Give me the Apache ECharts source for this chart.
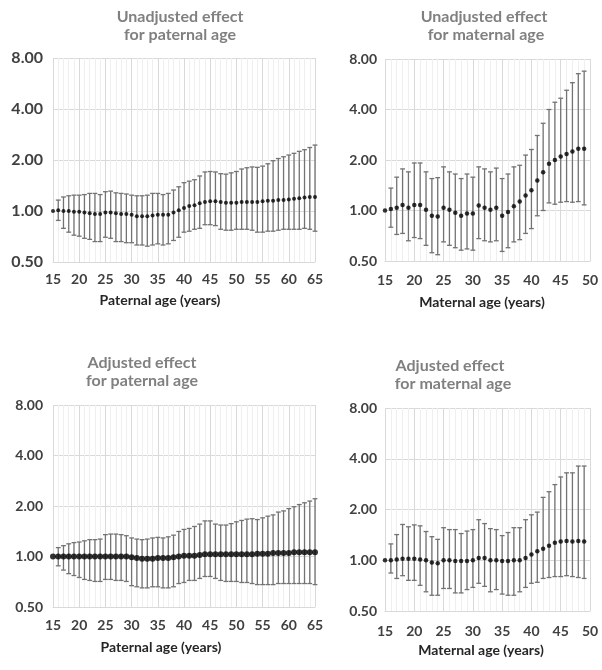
<!DOCTYPE html>
<html>
<head>
<meta charset="utf-8">
<script src="https://cdn.jsdelivr.net/npm/echarts@6/dist/echarts.min.js"></script>
<style>
html,body{margin:0;padding:0;background:#fff;}
#chart{width:602px;height:670px;}
</style>
</head>
<body>
<div id="chart"></div>
<script>
// ---------- data ----------
const paternalAges = [];
for (let a = 15; a <= 65; a++) paternalAges.push(a);
const maternalAges = [];
for (let a = 15; a <= 49; a++) maternalAges.push(a);

const yTicks = [0.5, 1, 2, 4, 8];
const paternalXTicks = [15, 20, 25, 30, 35, 40, 45, 50, 55, 60, 65];
const maternalXTicks = [15, 20, 25, 30, 35, 40, 45, 50];

// Unadjusted paternal (ages 15..65)
const unadjPatOR = [1.00,1.01,1.00,1.00,0.99,0.99,0.98,0.97,0.96,0.96,0.98,0.98,0.97,0.96,0.96,0.95,0.93,0.93,0.93,0.94,0.95,0.95,0.95,0.98,1.01,1.04,1.07,1.08,1.11,1.13,1.14,1.14,1.13,1.12,1.12,1.12,1.13,1.13,1.13,1.13,1.14,1.15,1.15,1.16,1.16,1.17,1.18,1.19,1.20,1.21,1.21];
const unadjPatUpper = [null,1.16,1.21,1.23,1.24,1.24,1.25,1.27,1.27,1.25,1.30,1.31,1.28,1.27,1.26,1.24,1.23,1.23,1.24,1.27,1.27,1.25,1.27,1.33,1.39,1.47,1.50,1.53,1.61,1.70,1.71,1.70,1.66,1.65,1.68,1.71,1.77,1.80,1.82,1.81,1.84,1.90,1.98,2.04,2.09,2.14,2.19,2.25,2.30,2.37,2.45];
const unadjPatLower = [null,0.88,0.79,0.75,0.72,0.71,0.69,0.68,0.66,0.66,0.70,0.69,0.66,0.66,0.65,0.65,0.63,0.63,0.62,0.63,0.64,0.63,0.64,0.67,0.70,0.75,0.76,0.78,0.79,0.83,0.83,0.82,0.78,0.77,0.77,0.78,0.78,0.78,0.77,0.75,0.75,0.76,0.76,0.77,0.78,0.78,0.78,0.78,0.79,0.78,0.76];

// Unadjusted maternal (ages 15..49)
const unadjMatOR = [1.00,1.02,1.04,1.08,1.04,1.08,1.08,1.01,0.93,0.92,1.04,1.01,0.97,0.93,0.96,0.96,1.07,1.04,1.01,1.04,0.93,0.98,1.06,1.13,1.23,1.32,1.51,1.69,1.90,2.00,2.10,2.17,2.25,2.33,2.33];
const unadjMatUpper = [null,1.36,1.58,1.77,1.70,1.92,1.92,1.70,1.55,1.57,1.82,1.70,1.65,1.55,1.65,1.58,1.82,1.77,1.70,1.79,1.55,1.65,1.82,1.86,2.14,2.31,2.80,3.31,4.00,4.42,4.67,5.21,5.78,6.54,6.77];
const unadjMatLower = [null,0.795,0.72,0.73,0.66,0.69,0.68,0.62,0.56,0.545,0.65,0.62,0.60,0.58,0.59,0.58,0.68,0.66,0.65,0.66,0.57,0.60,0.65,0.67,0.73,0.78,0.93,1.00,1.11,1.09,1.12,1.13,1.12,1.13,1.08];

// Adjusted paternal (ages 15..65)
const adjPatOR = [1.00,1.00,1.00,1.00,1.00,1.00,1.00,1.00,1.00,1.00,1.00,1.00,1.00,1.00,1.00,0.99,0.98,0.97,0.97,0.97,0.98,0.98,0.98,0.99,1.00,1.01,1.01,1.01,1.02,1.03,1.03,1.03,1.03,1.03,1.03,1.03,1.03,1.03,1.03,1.04,1.04,1.04,1.05,1.05,1.05,1.05,1.06,1.06,1.06,1.06,1.06];
const adjPatUpper = [null,1.13,1.16,1.19,1.21,1.22,1.24,1.26,1.26,1.27,1.35,1.36,1.36,1.35,1.33,1.29,1.27,1.26,1.27,1.29,1.30,1.29,1.31,1.34,1.41,1.45,1.47,1.51,1.56,1.63,1.63,1.56,1.54,1.54,1.57,1.61,1.64,1.67,1.68,1.66,1.70,1.74,1.77,1.84,1.87,1.93,1.98,2.04,2.09,2.14,2.21];
const adjPatLower = [null,0.88,0.83,0.79,0.77,0.75,0.73,0.72,0.71,0.71,0.73,0.73,0.72,0.72,0.71,0.67,0.66,0.65,0.65,0.66,0.66,0.65,0.65,0.66,0.69,0.70,0.72,0.72,0.74,0.76,0.76,0.74,0.72,0.71,0.71,0.71,0.70,0.70,0.69,0.68,0.68,0.68,0.68,0.69,0.69,0.69,0.69,0.69,0.69,0.69,0.68];

// Adjusted maternal (ages 15..49)
const adjMatOR = [1.00,1.00,1.01,1.02,1.02,1.02,1.01,1.00,0.97,0.96,1.00,1.00,0.99,0.99,0.99,1.00,1.03,1.03,1.00,1.00,0.99,0.99,1.00,1.00,1.03,1.08,1.13,1.17,1.22,1.27,1.29,1.30,1.29,1.30,1.29];
const adjMatUpper = [null,1.25,1.42,1.63,1.58,1.62,1.60,1.48,1.38,1.33,1.56,1.52,1.52,1.44,1.49,1.52,1.74,1.65,1.54,1.52,1.40,1.46,1.56,1.56,1.74,1.86,1.93,2.36,2.55,2.81,3.12,3.30,3.30,3.62,3.62];
const adjMatLower = [null,0.84,0.78,0.81,0.76,0.76,0.71,0.65,0.62,0.62,0.68,0.68,0.64,0.64,0.67,0.69,0.73,0.70,0.65,0.67,0.63,0.62,0.62,0.65,0.69,0.73,0.74,0.78,0.79,0.80,0.80,0.81,0.80,0.79,0.78];

// ---------- chart ----------
const FONT = 'Lato, "Open Sans", sans-serif';
const GRID_C = '#d9d9d9';
const MINOR_C = '#efefef';
const BAR_C = '#737373';

const panels = [
  {ages: paternalAges, or: unadjPatOR, up: unadjPatUpper, lo: unadjPatLower, xmax: 65, grid: {left: 53, top: 58, width: 262, height: 204}, ylabSize: 16, ylabMargin: 10, xlabMargin: 10, dot: 4},
  {ages: maternalAges, or: unadjMatOR, up: unadjMatUpper, lo: unadjMatLower, xmax: 50, grid: {left: 385, top: 59, width: 205, height: 202}, ylabSize: 14, ylabMargin: 8, xlabMargin: 12, dot: 4.5},
  {ages: paternalAges, or: adjPatOR, up: adjPatUpper, lo: adjPatLower, xmax: 65, grid: {left: 53, top: 405, width: 262, height: 202}, ylabSize: 14, ylabMargin: 10, xlabMargin: 11, dot: 6},
  {ages: maternalAges, or: adjMatOR, up: adjMatUpper, lo: adjMatLower, xmax: 50, grid: {left: 385, top: 408, width: 205, height: 203}, ylabSize: 14, ylabMargin: 8, xlabMargin: 13, dot: 4.5}
];

const grids = [], xAxes = [], yAxes = [], series = [];
panels.forEach((p, i) => {
  grids.push(Object.assign({containLabel: false}, p.grid));
  xAxes.push({
    type: 'value', gridIndex: i, min: 15, max: p.xmax, interval: 5,
    axisLine: {show: true, lineStyle: {color: GRID_C}},
    axisTick: {show: false},
    axisLabel: {color: '#404040', fontSize: 14, fontWeight: 'bold', fontFamily: FONT, margin: p.xlabMargin},
    splitLine: {show: true, lineStyle: {color: GRID_C, width: 1}},
    minorTick: {show: false, splitNumber: 5},
    minorSplitLine: {show: true, lineStyle: {color: MINOR_C, width: 1}}
  });
  yAxes.push({
    type: 'log', logBase: 2, gridIndex: i, min: 0.5, max: 8,
    axisLine: {show: false},
    axisTick: {show: false},
    axisLabel: {color: '#404040', fontSize: p.ylabSize, fontWeight: 'bold', fontFamily: FONT, margin: p.ylabMargin,
      formatter: v => Number(v).toFixed(2)},
    splitLine: {show: true, lineStyle: {color: GRID_C, width: 1}}
  });
  const barData = [];
  p.ages.forEach((a, k) => {
    if (p.lo[k] != null && p.up[k] != null) barData.push([a, p.lo[k], p.up[k]]);
  });
  series.push({
    type: 'custom', xAxisIndex: i, yAxisIndex: i, silent: true,
    data: barData,
    renderItem: function (params, api) {
      const x = api.value(0);
      const top = api.coord([x, api.value(2)]);
      const bot = api.coord([x, api.value(1)]);
      const hw = 2.4;
      const st = {stroke: BAR_C, lineWidth: 1.3};
      return {
        type: 'group',
        children: [
          {type: 'line', shape: {x1: top[0], y1: top[1], x2: bot[0], y2: bot[1]}, style: st},
          {type: 'line', shape: {x1: top[0] - hw, y1: top[1], x2: top[0] + hw, y2: top[1]}, style: st},
          {type: 'line', shape: {x1: bot[0] - hw, y1: bot[1], x2: bot[0] + hw, y2: bot[1]}, style: st}
        ]
      };
    },
    z: 2
  });
  series.push({
    type: 'scatter', xAxisIndex: i, yAxisIndex: i, silent: true,
    symbol: 'circle', symbolSize: p.dot,
    itemStyle: {color: '#000000'},
    data: p.ages.map((a, k) => [a, p.or[k]]),
    z: 3
  });
});

function txt(x, y, s, opt) {
  return {
    type: 'text', x: x, y: y,
    style: Object.assign({text: s, textAlign: 'center', textVerticalAlign: 'middle', fontFamily: FONT, fontWeight: 'bold'}, opt || {})
  };
}
const titleStyle = {fill: '#808080', fontSize: 16};
const axisTitleStyle = {fill: '#262626', fontSize: 14};

const graphics = [
  txt(180, 17, 'Unadjusted effect', titleStyle),
  txt(180, 35, 'for paternal age', titleStyle),
  txt(484, 17, 'Unadjusted effect', titleStyle),
  txt(486, 35, 'for maternal age', titleStyle),
  txt(142, 363, 'Adjusted effect', titleStyle),
  txt(142, 381, 'for paternal age', titleStyle),
  txt(450, 366, 'Adjusted effect', titleStyle),
  txt(453, 384, 'for maternal age', titleStyle),
  txt(160, 300, 'Paternal age (years)', axisTitleStyle),
  txt(482, 302, 'Maternal age (years)', axisTitleStyle),
  txt(161, 647, 'Paternal age (years)', axisTitleStyle),
  txt(481, 650, 'Maternal age (years)', axisTitleStyle)
];

const chart = echarts.init(document.getElementById('chart'), null, {renderer: 'canvas'});
chart.setOption({
  animation: false,
  backgroundColor: '#ffffff',
  grid: grids,
  xAxis: xAxes,
  yAxis: yAxes,
  series: series,
  graphic: graphics
});
</script>
</body>
</html>
